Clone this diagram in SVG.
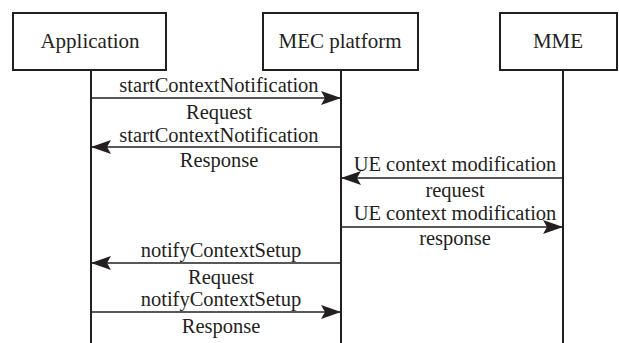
<svg xmlns="http://www.w3.org/2000/svg" width="619" height="343" viewBox="0 0 619 343">
  <style>
    .box { fill: #ffffff; stroke: #231f20; stroke-width: 2; }
    .life { stroke: #231f20; stroke-width: 2; }
    .msg { stroke: #231f20; stroke-width: 1.5; fill: none; }
    text { font-family: "Liberation Serif", "Times New Roman", serif; font-size: 20.5px; fill: #231f20; text-anchor: middle; }
    .box-label { font-size: 21px; }
  </style>
  <defs>
    <marker id="head" viewBox="0 0 20 14" refX="20" refY="7" markerWidth="20" markerHeight="14" markerUnits="userSpaceOnUse" orient="auto">
      <path d="M0,0 L20,7 L0,14 L4,7 Z" fill="#231f20"/>
    </marker>
  </defs>
  <rect width="619" height="343" fill="#ffffff"/>

  <g id="application">
    <rect class="box" x="13" y="13" width="153" height="57"/>
    <line class="life" x1="91" y1="70" x2="91" y2="343"/>
    <text class="box-label" x="90" y="48">Application</text>
  </g>
  <g id="mec-platform">
    <rect class="box" x="263" y="13" width="155" height="57"/>
    <line class="life" x1="341" y1="70" x2="341" y2="343"/>
    <text class="box-label" x="340" y="48">MEC platform</text>
  </g>
  <g id="mme">
    <rect class="box" x="500" y="13" width="117" height="57"/>
    <line class="life" x1="563" y1="70" x2="563" y2="343"/>
    <text class="box-label" x="558" y="48">MME</text>
  </g>

  <g id="connectors">
    <line class="msg" x1="91" y1="98" x2="341" y2="98" marker-end="url(#head)"/>
    <text x="219" y="92">startContextNotification</text>
    <text x="219" y="119">Request</text>

    <line class="msg" x1="341" y1="147" x2="91" y2="147" marker-end="url(#head)"/>
    <text x="219" y="142">startContextNotification</text>
    <text x="219" y="167">Response</text>

    <line class="msg" x1="563" y1="178" x2="341" y2="178" marker-end="url(#head)"/>
    <text x="455" y="171">UE context modification</text>
    <text x="455" y="197">request</text>

    <line class="msg" x1="341" y1="227" x2="563" y2="227" marker-end="url(#head)"/>
    <text x="455" y="220">UE context modification</text>
    <text x="455" y="245">response</text>

    <line class="msg" x1="341" y1="263" x2="91" y2="263" marker-end="url(#head)"/>
    <text x="221" y="257">notifyContextSetup</text>
    <text x="221" y="284">Request</text>

    <line class="msg" x1="91" y1="312" x2="341" y2="312" marker-end="url(#head)"/>
    <text x="221" y="306">notifyContextSetup</text>
    <text x="221" y="333">Response</text>
  </g>
</svg>
